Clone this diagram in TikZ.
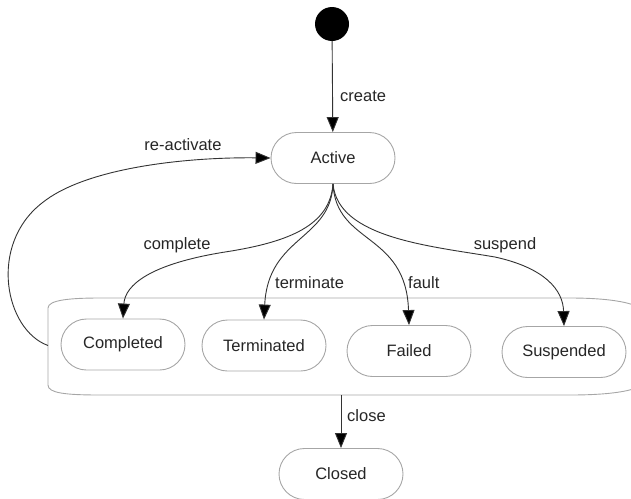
\documentclass[tikz,border=0pt]{standalone}
\usepackage{fontspec}
\setmainfont{Liberation Sans}
\usetikzlibrary{arrows.meta}
\begin{document}
\begin{tikzpicture}[x=1pt,y=-1pt,
  every node/.style={font=\fontsize{16.5}{19}\selectfont, text=black!85},
  state/.style={draw=black!35, line width=0.9pt, rounded corners=25.5pt, minimum width=124pt, minimum height=51pt, inner sep=0pt},
  clusterline/.style={draw=black!35, line width=0.9pt},
  arr/.style={draw=black!80, line width=0.9pt, -{Triangle[length=15pt,width=12pt,fill=black]}},
  lbl/.style={inner sep=0pt}]
\useasboundingbox (0,0) rectangle (631,498);
% cluster outline
\draw[clusterline] (48,308) .. controls (48,300) and (70,298) .. (100,298) -- (570,298)
  .. controls (615,298) and (650,304) .. (650,320) -- (650,375)
  .. controls (650,390) and (615,395) .. (570,395) -- (100,395)
  .. controls (65,395) and (48,393) .. (48,385) -- cycle;
\coordinate (clusterW) at (48,345.5);
\coordinate (clusterS) at (341,395);
\node[circle, fill=black, minimum size=34pt, inner sep=0pt] (init) at (332,24) {};
\node[state] (active) at (333,158) {Active};
\node[state] (completed) at (123,344.5) {Completed};
\node[state] (terminated) at (264,345.5) {Terminated};
\node[state] (failed) at (409,351) {Failed};
\node[state] (suspended) at (564,352) {Suspended};
\node[state] (closed) at (341,474) {Closed};
% edges
\draw[arr] (init) -- (active);
\node[lbl, anchor=west] (lcreate) at (340,96) {create};
\draw[arr] (active.south) .. controls (330,225) and (290,242) .. (225,252)
  .. controls (150,264) and (125,285) .. (completed.north);
\node[lbl] (lcomplete) at (177,245) {complete};
\draw[arr] (active.south) .. controls (331,240) and (268,236) .. (terminated.north);
\node[lbl, anchor=west] (lterminate) at (275,283) {terminate};
\draw[arr] (active.south) .. controls (336,245) and (406,232) .. (failed.north);
\node[lbl, anchor=west] (lfault) at (408,283) {fault};
\draw[arr] (active.south) .. controls (338,238) and (430,246) .. (495,257)
  .. controls (545,268) and (563,290) .. (suspended.north);
\node[lbl] (lsuspend) at (505,245) {suspend};
\draw[arr] (clusterW) .. controls (5,330) and (-12,245) .. (42,203)
  .. controls (85,168) and (185,157) .. (active.west);
\node[lbl] (lreactivate) at (183,145) {re-activate};
\draw[arr] (clusterS) -- (closed.north);
\node[lbl, anchor=west] (lclose) at (347,416) {close};
\end{tikzpicture}
\end{document}
